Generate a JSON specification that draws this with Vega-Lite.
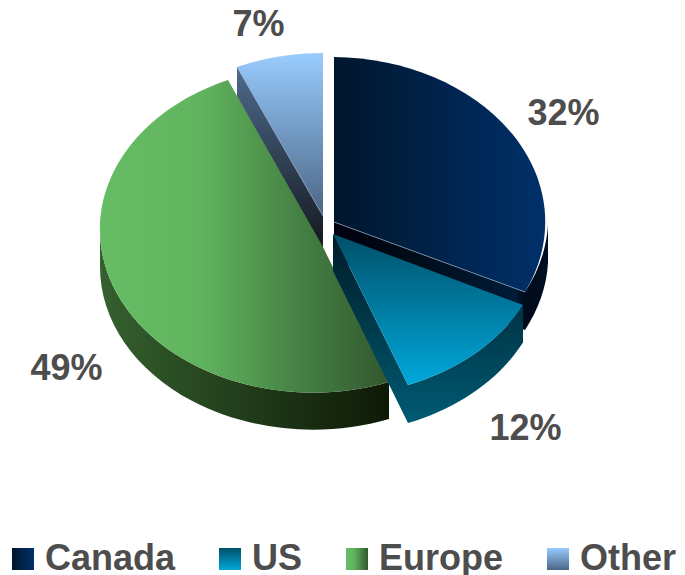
{"$schema":"https://vega.github.io/schema/vega-lite/v6.json","width":685,"height":575,"padding":0,"autosize":"none","background":"white","view":{"stroke":null},
"data":{"values":[{"slice":"Canada","share":0.32},{"slice":"US","share":0.12},{"slice":"Europe","share":0.49},{"slice":"Other","share":0.07}]},
"resolve":{"scale":{"fill":"independent","shape":"independent"},"legend":{"fill":"independent","shape":"independent"}},
"layer":[
{"transform":[{"filter":"datum.slice!=='US'"}],"mark":{"type":"point","filled":true,"opacity":1,"strokeWidth":0},
"encoding":{"size":{"value":4},
"shape":{"field":"slice","legend":null,"scale":{"domain":["Canada","Europe","Other"],"range":["M205.5 -62.5 L205.5 -24.5 A214 165 0 0 1 182.5 42.5 L182.5 4.5 A214 165 0 0 0 205.5 -62.5 Z M-8.5 -65.5 L182.5 4.5 L182.5 42.5 L-8.5 -27.5 Z","M-242.5 -57.5 A213 163 0 0 0 46.5 94.5 L46.5 131.5 A213 163 0 0 1 -242.5 -20.5 Z","M-105.5 -220.5 L-19.5 -71.5 L-19.5 -34.5 L-105.5 -183.5 Z"]}},
"fill":{"field":"slice","legend":null,"scale":{"domain":["Canada","Europe","Other"],"range":[
{"expr":"{gradient:'linear',x1:0,y1:0,x2:1,y2:0,stops:[{offset:0,color:'#00000f'},{offset:0.3,color:'#000a14'},{offset:0.85,color:'#001b38'},{offset:0.89,color:'#000a1a'},{offset:1,color:'#000e22'}]}"},
{"expr":"{gradient:'linear',x1:0,y1:0,x2:1,y2:0,stops:[{offset:0,color:'#35602f'},{offset:1,color:'#0e1906'}]}"},
{"expr":"{gradient:'linear',x1:0,y1:0,x2:0,y2:1,stops:[{offset:0,color:'#4f6a8c'},{offset:1,color:'#12161c'}]}"}]}}}},
{"transform":[{"filter":"datum.slice!=='US'"}],"mark":{"type":"point","filled":true,"opacity":1,"strokeWidth":0},
"encoding":{"size":{"value":4},
"shape":{"field":"slice","legend":null,"scale":{"domain":["Canada","US","Europe","Other"],"range":["M-8.5 -230.5 A214 165 0 0 1 182.5 4.5 L-8.5 -65.5 Z","M0 0","M46.5 94.5 A213 163 0 0 1 -242.5 -57.5 A213 163 0 0 1 -114.5 -207.5 L-19.5 -40.5 Z","M-19.5 -234.5 L-19.5 -71.5 L-105.5 -220.5 A214 165 0 0 1 -19.5 -234.5 Z"]}},
"fill":{"field":"slice","legend":null,"scale":{"domain":["Canada","US","Europe","Other"],"range":[
{"expr":"{gradient:'linear',x1:0,y1:0,x2:1,y2:0,stops:[{offset:0,color:'#00162c'},{offset:1,color:'#00306a'}]}"},
{"expr":"{gradient:'linear',x1:0,y1:0,x2:0,y2:1,stops:[{offset:0,color:'#005068'},{offset:1,color:'#00a8dc'}]}"},
{"expr":"{gradient:'linear',x1:0,y1:0,x2:1,y2:0,stops:[{offset:0,color:'#66bd64'},{offset:0.35,color:'#60b45e'},{offset:0.7,color:'#457f43'},{offset:1,color:'#33582f'}]}"},
{"expr":"{gradient:'linear',x1:0,y1:0,x2:0,y2:1,stops:[{offset:0,color:'#99ccff'},{offset:1,color:'#4a6585'}]}"}]}}}},
{"transform":[{"filter":"datum.slice==='Canada'||datum.slice==='Other'"}],"mark":{"type":"point","filled":false,"opacity":1,"strokeWidth":0.7,"color":"#8fa3bd"},
"encoding":{"size":{"value":4},
"shape":{"field":"slice","legend":null,"scale":{"domain":["Canada","Other"],"range":["M-8.5 -65.5 L182.5 4.5","M-105.5 -220.5 L-19.5 -71.5"]}}}},
{"transform":[{"filter":"datum.slice==='US'"}],"mark":{"type":"point","filled":true,"opacity":1,"strokeWidth":0},
"encoding":{"size":{"value":4},
"shape":{"field":"slice","legend":null,"scale":{"domain":["US"],"range":["M-9.5 -53.5 L65.5 97.5 L65.5 135.5 L-9.5 -16.5 Z M180.5 17.5 L180.5 55 A214 165 0 0 1 65.5 135.5 L65.5 97.5 A214 165 0 0 0 180.5 17.5 Z"]}},
"fill":{"field":"slice","legend":null,"scale":{"domain":["US"],"range":[{"expr":"{gradient:'linear',x1:0,y1:0,x2:0,y2:1,stops:[{offset:0,color:'#001c26'},{offset:1,color:'#005a74'}]}"}]}}}},
{"transform":[{"filter":"datum.slice==='US'"}],"mark":{"type":"point","filled":true,"opacity":1,"strokeWidth":0},
"encoding":{"size":{"value":4},
"shape":{"field":"slice","legend":null,"scale":{"domain":["US"],"range":["M-9.5 -53.5 L180.5 17.5 A214 165 0 0 1 65.5 97.5 Z"]}},
"fill":{"field":"slice","legend":null,"scale":{"domain":["US"],"range":[{"expr":"{gradient:'linear',x1:0,y1:0,x2:0,y2:1,stops:[{offset:0,color:'#005068'},{offset:1,color:'#00a8dc'}]}"}]}}}},
{"mark":{"type":"point","filled":true,"opacity":0,"strokeWidth":0},
"encoding":{"size":{"value":4},
"fill":{"field":"slice","scale":{"domain":["Canada","US","Europe","Other"],"range":[
{"expr":"{gradient:'linear',x1:0,y1:0,x2:1,y2:0,stops:[{offset:0,color:'#00162c'},{offset:1,color:'#00306a'}]}"},
{"expr":"{gradient:'linear',x1:0,y1:0,x2:0,y2:1,stops:[{offset:0,color:'#005068'},{offset:1,color:'#00a8dc'}]}"},
{"expr":"{gradient:'linear',x1:0,y1:0,x2:1,y2:0,stops:[{offset:0,color:'#66bd64'},{offset:0.35,color:'#60b45e'},{offset:1,color:'#33582f'}]}"},
{"expr":"{gradient:'linear',x1:0,y1:0,x2:0,y2:1,stops:[{offset:0,color:'#99ccff'},{offset:1,color:'#4a6585'}]}"}]},
"legend":{"title":null,"orient":"none","legendX":5,"legendY":541,"direction":"horizontal","columns":4,"columnPadding":36,"symbolType":"square","symbolSize":484,"symbolStrokeWidth":0,"labelFont":"Liberation Sans","labelFontWeight":"bold","labelFontSize":36,"labelColor":"#4d4d4d","labelOffset":4,"labelLimit":300,"symbolOpacity":1}}}},
{"transform":[{"filter":"datum.slice==='Canada'"}],"mark":{"type":"text","font":"Liberation Sans","fontWeight":"bold","fontSize":36,"color":"#4d4d4d","dx":221,"dy":-174,"baseline":"middle"},"encoding":{"text":{"field":"share","format":".0%"}}},
{"transform":[{"filter":"datum.slice==='US'"}],"mark":{"type":"text","font":"Liberation Sans","fontWeight":"bold","fontSize":36,"color":"#4d4d4d","dx":183,"dy":141,"baseline":"middle"},"encoding":{"text":{"field":"share","format":".0%"}}},
{"transform":[{"filter":"datum.slice==='Europe'"}],"mark":{"type":"text","font":"Liberation Sans","fontWeight":"bold","fontSize":36,"color":"#4d4d4d","dx":-276,"dy":81,"baseline":"middle"},"encoding":{"text":{"field":"share","format":".0%"}}},
{"transform":[{"filter":"datum.slice==='Other'"}],"mark":{"type":"text","font":"Liberation Sans","fontWeight":"bold","fontSize":36,"color":"#4d4d4d","dx":-84,"dy":-263,"baseline":"middle"},"encoding":{"text":{"field":"share","format":".0%"}}}
]}
